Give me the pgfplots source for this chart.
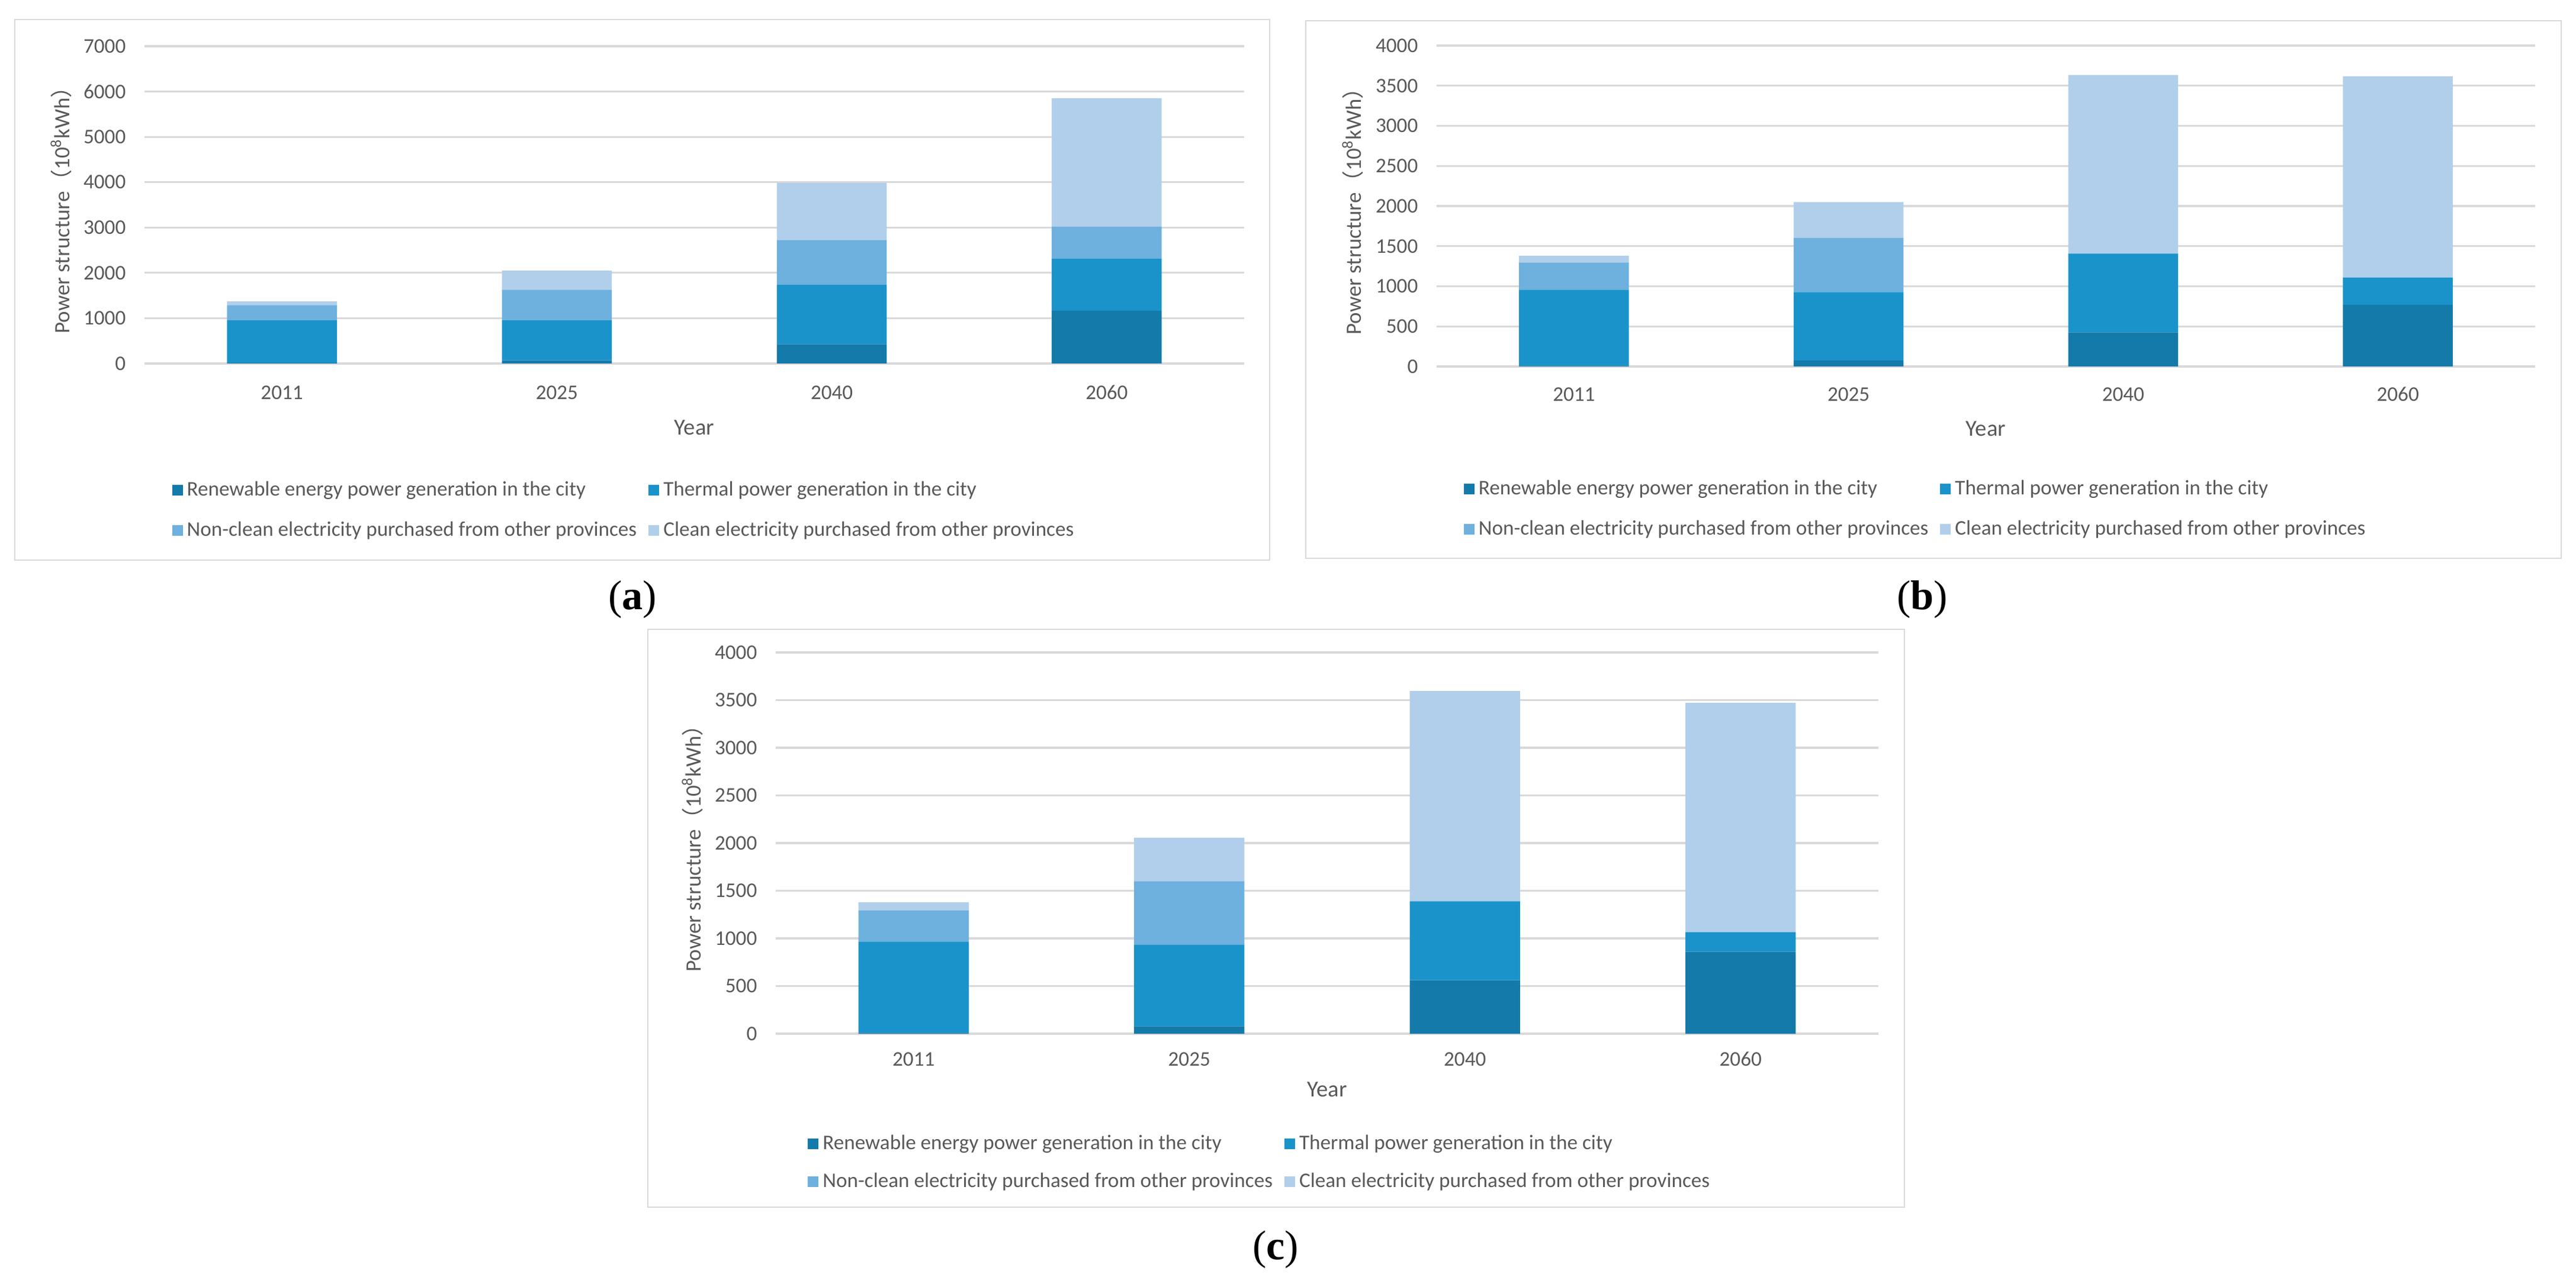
\documentclass[border=0pt]{standalone}
\usepackage{fontspec}
\setmainfont{Carlito}
\newfontfamily\cjk{Noto Sans CJK SC}
\newfontfamily\serif{Liberation Serif}
\usepackage{pgfplots}
\pgfplotsset{compat=1.18}
\usepackage{pgfplotstable}

\definecolor{renew}{HTML}{137AAA}
\definecolor{thermal}{HTML}{1A93CA}
\definecolor{nonclean}{HTML}{6EB0DE}
\definecolor{clean}{HTML}{B1CFEA}
\definecolor{gridgray}{HTML}{D9D9D9}
\definecolor{tickgray}{HTML}{595959}

% x: 0=2011 1=2025 2=2040 3=2060
\pgfplotstableread{
x R T N C
0 15 937 335 83
1 70 882 676 422
2 427 1309 990 1260
3 1163 1146 709 2834
}\tA
\pgfplotstableread{
x R T N C
0 10 946 340 85
1 74 854 674 447
2 426 980 6 2221
3 769 337 5 2506
}\tB
\pgfplotstableread{
x R T N C
0 10 956 326 87
1 78 855 667 455
2 561 828 5 2201
3 860 202 5 2404
}\tC

\pgfplotsset{
  panel/.style={
    scale only axis, anchor=south west,
    ybar stacked, bar width=0.4,
    xmin=-0.5, xmax=3.5, ymin=0,
    xtick={0,1,2,3}, xticklabels={2011,2025,2040,2060},
    axis line style={draw=none},
    major tick length=0pt,
    ymajorgrids, grid style={line width=0.9pt, color=gridgray},
    tick label style={font=\fontsize{10}{12}\selectfont, text=tickgray},
    /pgf/number format/assume math mode=true,
    /pgf/number format/1000 sep={},
    yticklabel style={anchor=east, inner sep=0pt, xshift=-0.31cm},
    xticklabel style={anchor=center, inner sep=0pt},
    xlabel={Year},
    xlabel style={font=\fontsize{11}{13}\selectfont, text=tickgray, anchor=center},
    ylabel={Power structure{\cjk （}10\textsuperscript{8}kWh{\cjk ）}},
    ylabel style={font=\fontsize{10.5}{12}\selectfont, text=tickgray, anchor=center},
    legend columns=2,
    legend cell align=left,
    legend style={draw=none, fill=none, anchor=center,
      font=\fontsize{10}{12}\selectfont, text=tickgray,
      /tikz/every even column/.append style={column sep=0.13cm},
      row sep=0.25cm},
    legend image code/.code={\fill[##1] (0cm,-0.09cm) rectangle (0.18cm,0.09cm);},
  },
}

\newcommand{\bars}[1]{%
  \addplot[fill=renew, draw=none] table[x=x, y=R]{#1};
  \addplot[fill=thermal, draw=none] table[x=x, y=T]{#1};
  \addplot[fill=nonclean, draw=none] table[x=x, y=N]{#1};
  \addplot[fill=clean, draw=none] table[x=x, y=C]{#1};
  \legend{Renewable energy power generation in the city,
    Thermal power generation in the city,
    Non-clean electricity purchased from other provinces,
    Clean electricity purchased from other provinces}
}

\begin{document}
\begin{tikzpicture}
\path[use as bounding box] (0,0) rectangle (43.5,21.61);

% frames
\draw[gridgray, line width=0.8pt] (0.25,12.15) rectangle (21.44,21.28);
\draw[gridgray, line width=0.8pt] (22.05,12.18) rectangle (43.25,21.26);
\draw[gridgray, line width=0.8pt] (10.94,1.22) rectangle (32.16,10.98);

% (a)
\begin{axis}[panel, at={(2.44cm,15.47cm)}, width=18.57cm, height=5.36cm,
  ymax=7000, ytick distance=1000,
  xticklabel style={yshift=-0.49cm},
  xlabel style={at={(axis description cs:0.5,-0.2015)}},
  ylabel style={at={(axis description cs:-0.0759,0.5)}},
  legend style={at={(axis description cs:0.437,-0.4627)}}]
\bars{\tA}
\end{axis}

% (b)
\begin{axis}[panel, at={(24.26cm,15.42cm)}, width=18.55cm, height=5.42cm,
  ymax=4000, ytick distance=500,
  xticklabel style={yshift=-0.47cm},
  xlabel style={at={(axis description cs:0.5,-0.1937)}},
  ylabel style={at={(axis description cs:-0.0765,0.5)}},
  legend style={at={(axis description cs:0.437,-0.4446)}}]
\bars{\tB}
\end{axis}

% (c)
\begin{axis}[panel, at={(13.10cm,4.15cm)}, width=18.62cm, height=6.44cm,
  ymax=4000, ytick distance=500,
  xticklabel style={yshift=-0.43cm},
  xlabel style={at={(axis description cs:0.5,-0.146)}},
  ylabel style={at={(axis description cs:-0.0757,0.5)}},
  legend style={at={(axis description cs:0.44,-0.3385)}, row sep=0.2cm}]
\bars{\tC}
\end{axis}

\node[font=\serif\fontsize{20}{24}\selectfont] at (10.68,11.48) {(\textbf{a})};
\node[font=\serif\fontsize{20}{24}\selectfont] at (32.46,11.48) {(\textbf{b})};
\node[font=\serif\fontsize{20}{24}\selectfont] at (21.54,0.50) {(\textbf{c})};
\end{tikzpicture}
\end{document}
